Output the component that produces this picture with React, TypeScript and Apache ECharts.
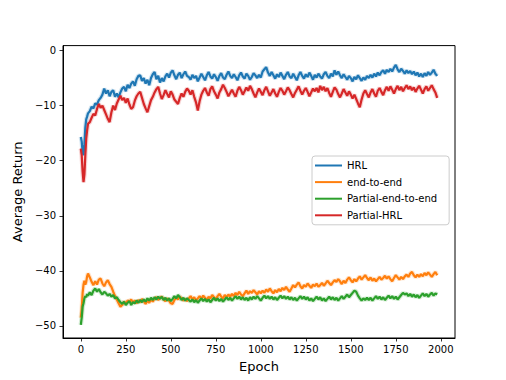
import React, { useEffect, useRef } from "react";
import * as echarts from "echarts";

const X_TICKS = [0, 250, 500, 750, 1000, 1250, 1500, 1750, 2000];
const Y_TICKS = [-50, -40, -30, -20, -10, 0];
const SERIES_NAMES = ["HRL", "end-to-end", "Partial-end-to-end", "Partial-HRL"];
const COLORS = ["#1f77b4", "#ff7f0e", "#2ca02c", "#d62728"];

const EARLY_EPOCHS = [0, 5, 10, 15, 20, 25, 30, 35];

const HRL = [
  -15.7, -16.5, -18.5, -19, -17, -14, -12.5, -12,
  -11.4, -11, -10.2, -10.5, -9.6, -9.8, -9, -8.6, -8.0, -6.9,
  -7.8, -7.2, -8.3, -7.5, -7.2, -8.4, -7.8, -8.5, -7.6, -6.9,
  -6.6, -7.4, -6.2, -6.8, -6.0, -5.6, -6.4, -5.2, -4.6, -4.5,
  -5.5, -5.0, -6.0, -5.3, -6.3, -5.0, -4.3, -3.9, -5.2, -4.6,
  -5.8, -5.0, -5.6, -4.7, -4.2, -4.9, -4.0, -3.6, -4.5, -5.2,
  -4.4, -4.0, -5.0, -4.3, -3.8, -4.6, -4.8,
  -5.3, -4.4, -5.0, -4.6, -5.6, -4.9, -4.2, -4.8, -5.4, -4.5,
  -3.9, -4.7, -5.1, -4.3, -4.8, -5.5, -4.6, -4.1, -4.9, -5.2,
  -4.4, -3.8, -4.6, -5.0, -4.3, -4.8, -5.4, -4.5, -4.0, -4.7,
  -5.1, -4.2, -4.6, -5.3, -4.8, -4.1, -4.5, -5.0, -4.4, -4.9,
  -3.8, -3.4, -3.0, -4.0, -4.6, -3.9, -4.5, -5.1, -4.3, -4.8,
  -4.0, -4.6, -5.2, -4.4, -3.9, -4.7, -5.0, -4.2, -4.8, -5.4,
  -4.5, -3.9, -4.6, -5.1, -4.3, -4.8, -4.0, -4.6, -5.3, -4.4,
  -4.9, -4.2, -4.7, -5.1, -4.3, -3.9, -4.6, -5.0, -4.2, -4.7,
  -3.6, -4.4, -3.8, -4.5, -5.0, -4.3, -4.8, -5.3, -4.6, -5.0,
  -5.6, -4.8, -5.2, -4.5, -5.0, -5.5, -4.9, -5.3, -4.6, -5.0,
  -4.4, -4.9, -4.2, -4.7, -4.0, -4.5, -3.9, -3.6, -4.2, -3.5,
  -3.9, -3.3, -3.8, -3.1, -2.6, -3.4, -3.9, -3.3, -3.7, -4.2,
  -3.6, -4.1, -3.7, -4.3, -3.8, -4.5, -4.0, -4.7, -4.2, -4.8,
  -4.1, -4.6, -3.9, -4.4, -4.0, -3.5, -4.2, -4.6,
];

const END_TO_END = [
  -48.5, -47, -44, -42.5, -41.8, -42.5, -42, -41,
  -40.5, -41.2, -42.0, -42.6, -41.9, -42.5, -41.6, -41.4, -42.3, -42.8,
  -42.1, -41.7, -42.4, -42.9, -43.8, -44.6, -45.2, -45.9, -46.5, -46.2,
  -45.6, -45.9, -45.4, -45.6, -45.2, -45.8, -45.4, -45.9, -45.3, -45.7,
  -45.1, -45.5, -46.0, -45.4, -45.8, -45.2, -45.6, -45.0, -44.8, -45.3,
  -44.9, -44.7, -45.2, -45.5, -45.0, -45.4, -45.9, -46.0, -45.3, -44.9,
  -45.2, -44.7, -45.0, -45.4, -45.1, -45.5, -45.0,
  -44.6, -45.2, -44.8, -45.4, -45.0, -44.6, -45.1, -44.5, -44.9, -45.3,
  -44.7, -45.0, -44.4, -44.8, -45.2, -44.6, -44.2, -44.7, -45.0, -44.4,
  -44.8, -44.3, -44.7, -44.2, -44.6, -44.0, -44.4, -43.8, -44.3, -44.6,
  -44.1, -43.6, -44.2, -43.7, -44.0, -43.5, -43.9, -44.3, -43.7, -44.1,
  -43.6, -44.0, -43.4, -43.8, -43.2, -43.7, -44.1, -43.5, -43.9, -43.3,
  -43.7, -43.1, -43.5, -42.9, -43.4, -43.8, -43.2, -42.6, -43.0, -42.5,
  -42.1, -42.8, -43.2, -42.6, -42.9, -42.3, -42.7, -43.1, -42.5, -42.8,
  -42.3, -42.9, -42.6, -42.2, -42.7, -42.3, -41.8, -42.2, -42.6, -42.1,
  -41.7, -42.0, -41.5, -41.9, -42.4, -41.8, -42.2, -41.6, -41.2, -41.7,
  -42.1, -41.5, -41.9, -41.4, -41.0, -41.6, -41.2, -40.8, -41.3, -41.7,
  -41.2, -41.8, -41.4, -41.9, -41.5, -41.1, -41.6, -41.3, -40.9, -41.4,
  -41.0, -41.5, -41.9, -41.3, -40.8, -41.2, -41.6, -41.1, -41.5, -41.0,
  -40.7, -41.1, -40.5, -40.2, -40.8, -41.2, -40.7, -41.1, -40.6, -41.0,
  -40.4, -40.8, -40.3, -40.7, -41.1, -40.6, -40.2, -40.8,
];

const PARTIAL_END_TO_END = [
  -49.8, -48.5, -46.5, -45.9, -45, -44.6, -44.8, -44.2,
  -44.5, -43.9, -44.4, -43.6, -43.2, -43.8, -43.3, -43.9, -44.3, -43.8,
  -44.1, -44.5, -44.2, -44.7, -44.4, -45.0, -44.8, -45.3, -45.7, -46.0,
  -45.6, -46.2, -45.8, -45.5, -46.2, -45.7, -45.9, -45.4, -45.8, -45.3,
  -45.7, -45.2, -45.6, -45.0, -45.4, -44.9, -45.3, -44.8, -45.2, -44.7,
  -45.1, -44.7, -45.3, -44.9, -45.4, -45.0, -45.5, -45.1, -44.6, -45.0,
  -44.4, -44.8, -45.3, -44.9, -45.4, -45.0, -45.3,
  -45.6, -45.2, -45.7, -45.3, -45.8, -45.4, -45.0, -45.5, -45.1, -45.6,
  -45.2, -45.7, -45.3, -44.9, -45.4, -45.0, -45.5, -45.1, -45.6, -45.2,
  -44.8, -45.3, -44.9, -45.4, -45.0, -44.6, -45.1, -44.7, -45.2, -44.8,
  -45.3, -44.9, -45.4, -44.8, -45.2, -44.7, -45.1, -44.6, -45.0, -45.4,
  -44.9, -44.5, -45.0, -44.6, -45.1, -44.7, -45.2, -44.8, -45.3, -44.9,
  -44.5, -45.0, -44.6, -45.1, -44.7, -45.2, -44.8, -45.3, -44.9, -45.4,
  -45.0, -44.6, -45.1, -44.7, -45.2, -44.8, -45.4, -45.0, -45.5, -45.1,
  -44.7, -45.2, -44.8, -45.4, -45.0, -45.5, -45.1, -44.7, -45.2, -44.8,
  -45.3, -44.9, -45.4, -45.0, -44.6, -45.1, -44.7, -44.3, -44.8, -44.4,
  -44.0, -43.6, -43.8, -44.5, -45.0, -45.4, -45.0, -45.3, -44.9, -45.3,
  -44.9, -45.4, -45.0, -44.6, -45.1, -44.7, -45.2, -44.8, -45.3, -44.9,
  -44.5, -45.0, -44.6, -45.1, -44.7, -45.2, -44.8, -44.4, -44.0, -44.3,
  -44.1, -44.6, -44.2, -44.7, -44.3, -44.8, -44.4, -44.9, -44.5, -44.1,
  -44.6, -44.2, -44.7, -44.3, -44.0, -44.5, -44.1, -44.3,
];

const PARTIAL_HRL = [
  -17.8, -19, -22, -23.9, -22.5, -19, -16, -14.5,
  -13.3, -13.0, -12.2, -11.5, -11.8, -10.6, -9.7, -10.4, -10.0, -10.8,
  -11.6, -12.4, -13.0, -11.2, -10.0, -10.8, -9.6, -8.9, -8.2, -9.0,
  -8.6, -9.5, -8.7, -9.8, -10.6, -10.3, -9.1, -8.3, -7.8, -7.5,
  -8.6, -9.7, -10.5, -11.2, -10.1, -9.0, -8.4, -7.6, -7.0, -6.6,
  -7.8, -8.8, -8.1, -7.2, -7.9, -8.5, -7.4, -8.0, -8.9, -9.3,
  -9.7, -8.6, -7.8, -8.4, -7.5, -6.9, -7.3,
  -8.0, -7.2, -8.4, -9.4, -10.9, -9.2, -8.0, -7.3, -6.8, -7.6,
  -8.2, -7.0, -6.5, -7.4, -8.0, -8.7, -7.6, -7.0, -6.2, -6.8,
  -7.5, -8.3, -7.7, -7.1, -7.8, -8.4, -7.3, -6.6, -7.2, -8.0,
  -7.4, -6.7, -7.3, -6.4, -7.0, -7.8, -8.5, -7.6, -6.9, -7.5,
  -8.1, -7.2, -6.6, -7.4, -8.2, -7.6, -7.0, -7.8, -8.4, -7.5,
  -6.8, -7.3, -8.0, -7.4, -6.7, -7.2, -7.9, -8.5, -7.7, -7.1,
  -6.5, -7.3, -8.0, -7.3, -6.8, -7.5, -8.3, -7.6, -6.9, -7.4,
  -6.8, -7.6, -6.4, -7.2, -6.6, -7.4, -6.8, -7.7, -8.4, -7.5,
  -6.7, -7.1, -7.9, -8.5, -7.8, -7.0, -7.6, -8.2, -7.4, -8.0,
  -8.7, -8.0, -8.8, -9.6, -10.3, -8.9, -7.8, -7.2, -7.9, -8.5,
  -7.6, -7.0, -7.8, -8.4, -7.3, -6.8, -7.5, -8.1, -7.2, -6.6,
  -7.3, -6.5, -7.1, -7.8, -7.0, -6.4, -7.2, -6.6, -7.4, -6.8,
  -6.3, -7.0, -6.5, -7.2, -6.7, -7.5, -6.9, -6.4, -7.1, -7.8,
  -7.0, -6.5, -7.3, -6.8, -6.3, -7.0, -7.6, -8.6,
];

const VALUES = [HRL, END_TO_END, PARTIAL_END_TO_END, PARTIAL_HRL];

function buildEpochs(): number[] {
  const out = EARLY_EPOCHS.slice();
  for (let e = 40; e <= 1980; e += 10) out.push(e);
  return out;
}

const FONT = "DejaVu Sans";
const minus = (v: number) => String(v).replace("-", "\u2212");

export default function App() {
  const ref = useRef<HTMLDivElement>(null);
  useEffect(() => {
    if (!ref.current) return;
    const chart = echarts.init(ref.current, undefined, { renderer: "svg" });
    const epochs = buildEpochs();
    const pairs = (vals: number[]) =>
      vals.slice(0, epochs.length).map((v, i) => [epochs[i], v]);

    const halos: any[] = VALUES.map((vals, i) => ({
      type: "line",
      name: SERIES_NAMES[i] + " band",
      data: pairs(vals),
      symbol: "none",
      silent: true,
      z: 1,
      lineStyle: { color: COLORS[i], width: 4.5, opacity: 0.2 },
    }));
    const lines: any[] = VALUES.map((vals, i) => ({
      type: "line",
      name: SERIES_NAMES[i],
      data: pairs(vals),
      symbol: "none",
      z: 2,
      lineStyle: { color: COLORS[i], width: 2.2 },
      itemStyle: { color: COLORS[i] },
    }));

    chart.setOption({
      animation: false,
      backgroundColor: "#fff",
      textStyle: { fontFamily: FONT },
      grid: {
        left: 63,
        top: 45.6,
        width: 392,
        height: 292.4,
        show: true,
        borderColor: "#000",
        borderWidth: 1,
        backgroundColor: "transparent",
      },
      legend: {
        data: SERIES_NAMES,
        orient: "vertical",
        left: 312,
        top: 156,
        padding: [3, 12, 3, 3],
        itemWidth: 27,
        itemHeight: 2,
        itemGap: 3.6,
        icon: "rect",
        backgroundColor: "rgba(255,255,255,0.8)",
        borderColor: "#cccccc",
        borderWidth: 1,
        borderRadius: 3,
        textStyle: { fontFamily: FONT, fontSize: 10, color: "#000", lineHeight: 13 },
      },
      xAxis: {
        type: "value",
        min: -99,
        max: 2079,
        name: "Epoch",
        nameLocation: "middle",
        nameGap: 22,
        nameTextStyle: { fontFamily: FONT, fontSize: 13, color: "#000" },
        axisLine: { show: true, onZero: false, lineStyle: { color: "#000", width: 1 } },
        axisTick: { show: true, length: 3.5, customValues: X_TICKS, lineStyle: { color: "#000", width: 0.8 } },
        axisLabel: {
          customValues: X_TICKS,
          margin: 6,
          fontFamily: FONT,
          fontSize: 10,
          color: "#000",
          formatter: minus,
        },
        splitLine: { show: false },
      },
      yAxis: {
        type: "value",
        min: -52.2,
        max: 0.9,
        name: "Average Return",
        nameLocation: "middle",
        nameGap: 29,
        nameTextStyle: { fontFamily: FONT, fontSize: 13, color: "#000" },
        axisLine: { show: true, onZero: false, lineStyle: { color: "#000", width: 1 } },
        axisTick: { show: true, length: 3.5, customValues: Y_TICKS, lineStyle: { color: "#000", width: 0.8 } },
        axisLabel: {
          customValues: Y_TICKS,
          margin: 7,
          fontFamily: FONT,
          fontSize: 10,
          color: "#000",
          formatter: minus,
        },
        splitLine: { show: false },
      },
      series: [...halos, ...lines],
    });
    return () => chart.dispose();
  }, []);
  return (
    <div
      ref={ref}
      style={{ position: "fixed", left: 0, top: 0, width: 506, height: 380 }}
    />
  );
}
